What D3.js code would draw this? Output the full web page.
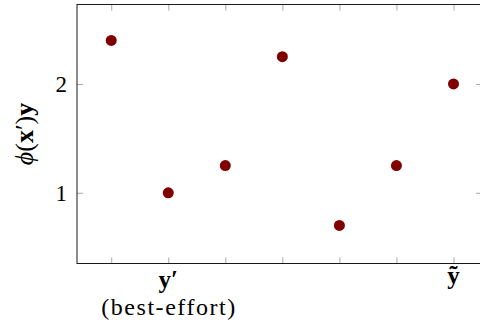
<!DOCTYPE html>
<html>
<head>
<meta charset="utf-8">
<script src="https://cdn.jsdelivr.net/npm/d3@7"></script>
<style>
  html, body { margin: 0; padding: 0; background: #fff; }
  svg { display: block; }
</style>
</head>
<body>
<svg id="chart" width="480" height="333"></svg>
<script>
// Positions along the x axis (one per candidate output) and the score at each
const positions = [0, 1, 2, 3, 4, 5, 6];
const scores = [2.4, 1.0, 1.25, 2.25, 0.7, 1.25, 2.0];
// Labelled x ticks
const xLabelPos = [1, 6];
const xLabelText = ["y\u2032", "\u1EF9"];
const xLabelBase = [288, 284];
const yTicks = [1, 2];

const serif = "'Liberation Serif', 'Times New Roman', serif";

const svg = d3.select("#chart");
const plotLeft = 77, plotRight = 482, plotTop = 4.5, plotBottom = 263.5;

const x = d3.scaleLinear().domain([-0.6, 6.5]).range([plotLeft, plotRight]);
const y = d3.scaleLinear().domain([0.35, 2.73]).range([plotBottom, plotTop]);

const tickColor = "#a8a8a8";
const lineColor = "#1a1a1a";

function styleAxis(g) {
  g.select(".domain").remove();
  g.selectAll(".tick line").attr("stroke", tickColor).attr("stroke-width", 1);
  g.selectAll(".tick text").remove();
}

// inward ticks on all four sides
svg.append("g").attr("transform", `translate(0,${plotBottom})`)
  .call(d3.axisBottom(x).tickValues(positions).tickSize(-6)).call(styleAxis);
svg.append("g").attr("transform", `translate(0,${plotTop})`)
  .call(d3.axisTop(x).tickValues(positions).tickSize(-6)).call(styleAxis);
svg.append("g").attr("transform", `translate(${plotLeft},0)`)
  .call(d3.axisLeft(y).tickValues(yTicks).tickSize(-6)).call(styleAxis);
svg.append("g").attr("transform", `translate(${plotRight},0)`)
  .call(d3.axisRight(y).tickValues(yTicks).tickSize(-6)).call(styleAxis);

// frame
svg.append("rect")
  .attr("x", plotLeft).attr("y", plotTop)
  .attr("width", plotRight - plotLeft).attr("height", plotBottom - plotTop)
  .attr("fill", "none").attr("stroke", lineColor).attr("stroke-width", 1);

// y tick labels
svg.selectAll(".ylab").data(yTicks).enter().append("text")
  .attr("x", plotLeft - 10).attr("y", d => y(d) + 8)
  .attr("text-anchor", "end").attr("font-size", 23)
  .attr("font-family", serif)
  .text(d => d);

// x tick labels
svg.selectAll(".xlab").data(xLabelPos).enter().append("text")
  .attr("x", d => x(d)).attr("y", (d, i) => xLabelBase[i])
  .attr("text-anchor", "middle").attr("font-size", 25).attr("font-weight", "bold")
  .attr("font-family", serif)
  .text((d, i) => xLabelText[i]);

svg.append("text")
  .attr("x", x(1)).attr("y", 315)
  .attr("text-anchor", "middle").attr("font-size", 24)
  .attr("font-family", serif)
  .attr("textLength", 134).attr("lengthAdjust", "spacing")
  .text("(best-effort)");

// y axis title
const yt = svg.append("text")
  .attr("transform", `translate(33,134) rotate(-90)`)
  .attr("text-anchor", "middle").attr("font-size", 26)
  .attr("font-family", serif);
yt.append("tspan").attr("font-style", "italic").text("\u03D5");
yt.append("tspan").text("(");
yt.append("tspan").attr("font-weight", "bold").text("x");
yt.append("tspan").text("\u2032)");
yt.append("tspan").attr("font-weight", "bold").text("y");

// points
svg.selectAll(".pt").data(positions).enter().append("circle")
  .attr("cx", d => x(d)).attr("cy", (d, i) => y(scores[i]))
  .attr("r", 5.5).attr("fill", "#800000");
</script>
</body>
</html>
